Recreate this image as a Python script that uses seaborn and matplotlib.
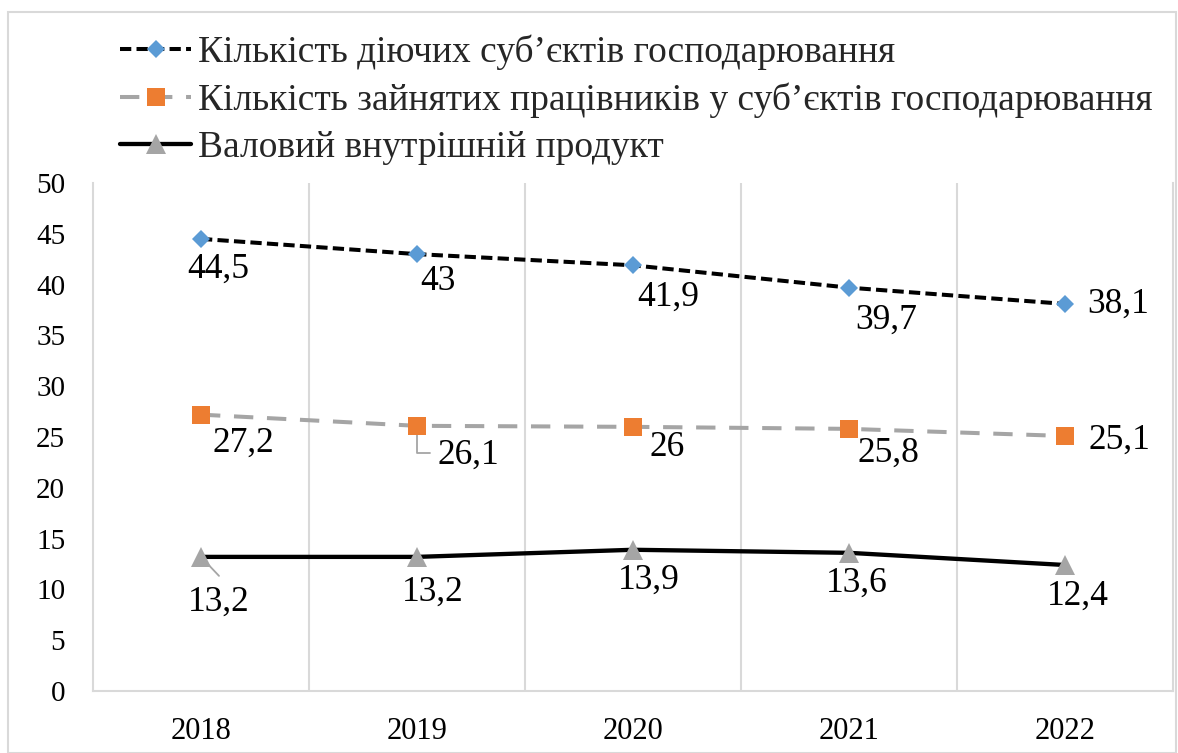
import matplotlib
matplotlib.use("Agg")
import matplotlib.pyplot as plt
import seaborn as sns
import pandas as pd
from matplotlib.patches import Rectangle

years = ["2018", "2019", "2020", "2021", "2022"]
entities = [44.5, 43.0, 41.9, 39.7, 38.1]
employees = [27.2, 26.1, 26.0, 25.8, 25.1]
gdp = [13.2, 13.2, 13.9, 13.6, 12.4]
names = [
    "Кількість діючих суб’єктів господарювання",
    "Кількість зайнятих працівників у суб’єктів господарювання",
    "Валовий внутрішній продукт",
]
labels_entities = ["44,5", "43", "41,9", "39,7", "38,1"]
labels_employees = ["27,2", "26,1", "26", "25,8", "25,1"]
labels_gdp = ["13,2", "13,2", "13,9", "13,6", "12,4"]

sns.set_theme(style="white")
plt.rcParams["font.family"] = ["Liberation Serif", "DejaVu Serif"]

W, H = 1178, 753
fig = plt.figure(figsize=(W / 100, H / 100), dpi=100)
ax = fig.add_axes([93 / W, 1 - 691 / H, (1173 - 93) / W, (691 - 183) / H])

x = list(range(len(years)))
df = pd.DataFrame({"x": x, "e": entities, "p": employees, "g": gdp})

sns.lineplot(data=df, x="x", y="e", ax=ax, color="black", lw=2.9,
             marker="D", markersize=9, markerfacecolor="#5B9BD5",
             markeredgewidth=0, label=names[0], dashes=(2.8, 1.3), zorder=3)
sns.lineplot(data=df, x="x", y="p", ax=ax, color="#A5A5A5", lw=2.9,
             marker="s", markersize=12.5, markerfacecolor="#ED7D31",
             markeredgewidth=0, label=names[1], dashes=(4.8, 3.4), zorder=3)
sns.lineplot(data=df, x="x", y="g", ax=ax, color="black", lw=3.1,
             marker="^", markersize=14.5, markerfacecolor="#A5A5A5",
             markeredgewidth=0, label=names[2], zorder=3)
if ax.get_legend() is not None:
    ax.get_legend().remove()

ax.set_xlim(-0.5, 4.5)
ax.set_ylim(0, 50)
ax.set_yticks(range(0, 51, 5))
ax.set_xticks(x)
ax.set_xticklabels(years)
ax.set_xlabel("")
ax.set_ylabel("")
ax.tick_params(axis="y", length=0, pad=20, labelsize=21, colors="black")
ax.tick_params(axis="x", length=0, pad=19, labelsize=22, colors="black")

# vertical gridlines at category boundaries
for b in [0.5, 1.5, 2.5, 3.5]:
    ax.axvline(b, color="#D9D9D9", lw=1.5, zorder=0)
ax.spines["top"].set_visible(False)
for side in ["left", "right", "bottom"]:
    ax.spines[side].set_color("#D9D9D9")
    ax.spines[side].set_linewidth(1.5)

fs = 25.5
def lab(xs, ys, texts, offsets):
    for xi, yi, t, (dx, dy) in zip(xs, ys, texts, offsets):
        h = "left" if t in ("38,1", "25,1") else "center"
        ax.annotate(t, (xi, yi), xytext=(dx, dy), textcoords="offset pixels",
                    ha=h, va="center", fontsize=fs, color="black", zorder=4)

lab(x, entities, labels_entities,
    [(17, -30), (21, -27), (35, -32), (37, -33), (22, 0)])
lab(x, employees, labels_employees,
    [(42, -29), (51, -29), (34, -21), (39, -24), (23, -4)])
lab(x, gdp, labels_gdp,
    [(18, -45), (16, -35), (16, -30), (8, -30), (13, -31)])

# leader lines
ax.annotate("", (0, 13.2), xytext=(18, -19), textcoords="offset pixels",
            arrowprops=dict(arrowstyle="-", color="#A5A5A5", lw=1.3,
                            shrinkA=0, shrinkB=0), zorder=1)
ax.annotate("", (1, 26.1), xytext=(13, -27), textcoords="offset pixels",
            arrowprops=dict(arrowstyle="-", color="#A5A5A5", lw=1.3,
                            shrinkA=0, shrinkB=0,
                            connectionstyle="angle,angleA=0,angleB=90,rad=0"),
            zorder=1)

handles, lbls = ax.get_legend_handles_labels()
leg = fig.legend(handles, lbls, loc="upper left",
                 bbox_to_anchor=(120 / W, 1 - 35 / H), frameon=False,
                 fontsize=27, handlelength=1.9, handletextpad=0.18,
                 labelspacing=0.33, borderaxespad=0, borderpad=0)

fig.patches.append(Rectangle((8 / W, 0), (1176 - 8) / W, 1 - 12 / H,
                             transform=fig.transFigure, fill=False,
                             edgecolor="#D9D9D9", lw=1.5))

fig.savefig("out.png", dpi=100, facecolor="white")
